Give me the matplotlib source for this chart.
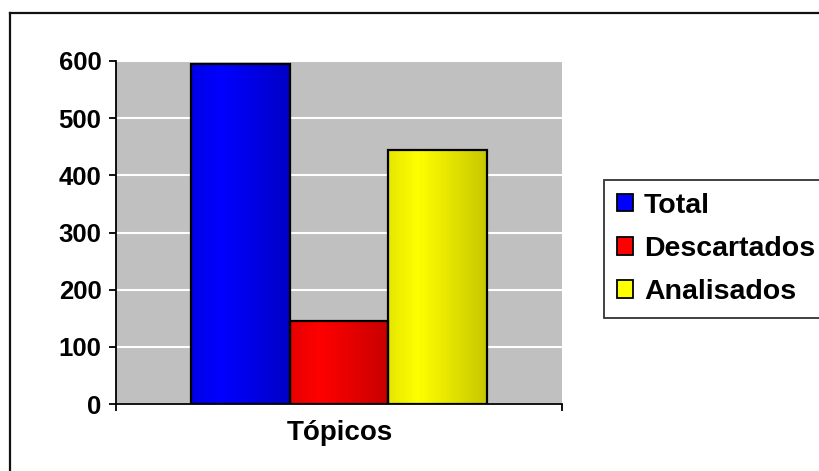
import numpy as np
import matplotlib
matplotlib.use("Agg")
import matplotlib.pyplot as plt
from matplotlib.patches import Patch
from matplotlib.lines import Line2D

# Data
category = "Tópicos"
series = ["Total", "Descartados", "Analisados"]
values = [594, 146, 444]
colors = [(0.0, 0.0, 1.0), (1.0, 0.0, 0.0), (1.0, 1.0, 0.0)]
yticks = [0, 100, 200, 300, 400, 500, 600]

plt.rcParams["font.family"] = ["Liberation Sans", "DejaVu Sans"]
plt.rcParams["font.weight"] = "bold"

W, H = 819, 471
fig = plt.figure(figsize=(W / 100, H / 100), dpi=100)
fig.patch.set_facecolor("white")

# Outer chart frame (left and top edges visible)
fig.add_artist(Line2D([10 / W, 10 / W], [0, 1 - 13 / H], color="#111111", lw=1.6,
                      transform=fig.transFigure))
fig.add_artist(Line2D([10 / W, 1.0], [1 - 13 / H, 1 - 13 / H], color="#111111", lw=1.6,
                      transform=fig.transFigure))

ax = fig.add_axes([116 / W, (H - 404) / H, 446 / W, 343 / H])
ax.set_facecolor("#C0C0C0")

bar_w = 0.221
n = len(values)
offsets = (np.arange(n) - (n - 1) / 2) * bar_w
bars = ax.bar(offsets, values, width=bar_w, color=colors, edgecolor="black",
              linewidth=1.6, zorder=3)


def shade(t):
    # horizontal shading profile across a bar: bright near the left third, darker to the right
    return np.where(t < 0.3, 0.9 + 0.1 * t / 0.3, 1.0 - 0.22 * (t - 0.3) / 0.7)


t = np.linspace(0, 1, 200)
for b, c in zip(bars, colors):
    f = shade(t)
    img = np.ones((1, t.size, 3))
    for k in range(3):
        img[0, :, k] = c[k] * f
    x0 = b.get_x()
    im = ax.imshow(img, extent=[x0, x0 + b.get_width(), 0, b.get_height()],
                   aspect="auto", zorder=3.5, interpolation="bilinear")
    im.set_clip_path(b)
    b.set_facecolor("none")
    b.set_zorder(4)

ax.set_xlim(-0.5, 0.5)
ax.set_ylim(0, 600)
ax.set_yticks(yticks)
ax.set_yticklabels([str(v) for v in yticks], fontsize=18.5, fontweight="bold")
ax.yaxis.grid(True, color="white", linewidth=1.5, zorder=1)
ax.set_axisbelow(True)

ax.set_xticks([-0.5, 0.5])
ax.set_xticklabels(["", ""])
ax.tick_params(axis="both", direction="out", length=5, width=1.3, color="black")
ax.tick_params(axis="y", pad=5.5)

for s in ["top", "right"]:
    ax.spines[s].set_visible(False)
for s in ["left", "bottom"]:
    ax.spines[s].set_linewidth(1.3)
    ax.spines[s].set_color("black")

fig.text(340 / W, 1 - 433 / H, category, ha="center", va="center",
         fontsize=20, fontweight="bold")

handles = [Patch(facecolor=c, edgecolor="black", linewidth=1.3) for c in colors]
leg = fig.legend(handles, series, loc="upper left",
                 bbox_to_anchor=(604 / W, 1 - 180 / H),
                 bbox_transform=fig.transFigure,
                 prop={"size": 20.5, "weight": "bold"},
                 frameon=True, fancybox=False, shadow=False,
                 handlelength=0.56, handleheight=0.56, handletextpad=0.39,
                 labelspacing=0.6, borderpad=0.45, borderaxespad=0)
leg.get_frame().set_edgecolor("black")
leg.get_frame().set_linewidth(1.3)
leg.get_frame().set_facecolor("white")

fig.savefig("out.png", dpi=100, facecolor="white")
